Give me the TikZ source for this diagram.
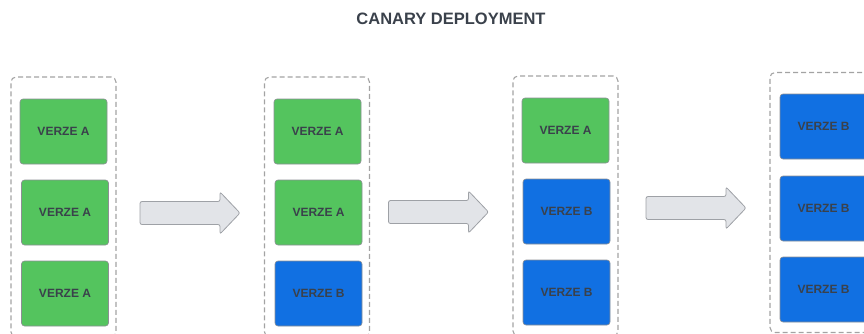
\documentclass[tikz,border=0pt]{standalone}
\usepackage{fontspec}
\setmainfont{Liberation Sans}
\definecolor{verA}{HTML}{54C45E}
\definecolor{verB}{HTML}{1170E2}
\definecolor{txt}{HTML}{3A414B}
\definecolor{frame}{HTML}{A3A3A3}
\definecolor{boxline}{HTML}{8C8F94}
\definecolor{arrowfill}{HTML}{E2E4E8}
\definecolor{arrowline}{HTML}{9EA1A6}
\tikzset{
  panel/.style={draw=frame, line width=1.1pt, dash pattern=on 5pt off 3pt,
    rounded corners=5pt, minimum width=105pt, minimum height=260pt, inner sep=0pt},
  verbox/.style={draw=boxline, line width=0.6pt, rounded corners=3pt,
    minimum width=87pt, minimum height=65pt, inner sep=0pt, text=txt,
    font=\bfseries\fontsize{12}{14}\selectfont},
  va/.style={verbox, fill=verA},
  vb/.style={verbox, fill=verB},
  fatarrow/.pic={
    \draw[draw=arrowline, fill=arrowfill, line width=0.8pt, rounded corners=2pt]
      (-50,-11.5) -- (30,-11.5) -- (30,-21) -- (50,0) -- (30,21) -- (30,11.5)
      -- (-50,11.5) -- cycle;
  }
}
\begin{document}
\begin{tikzpicture}[x=1pt,y=-1pt]
\useasboundingbox (0,0) rectangle (864,333);
\clip (0,0) rectangle (864,333);

\node[text=txt, font=\bfseries\fontsize{16.5}{19}\selectfont] (title) at (451,18.5) {CANARY DEPLOYMENT};

% stage frames
\node[panel] (p1) at (63.5,207) {};
\node[panel] (p2) at (317,207) {};
\node[panel] (p3) at (565.5,206) {};
\node[panel] (p4) at (822.5,202.5) {};

% stage 1
\node[va] (a11) at (63.5,131.5) {VERZE A};
\node[va] (a12) at (65,212.5) {VERZE A};
\node[va] (a13) at (65,293.5) {VERZE A};

% stage 2
\node[va] (a21) at (317.5,131.5) {VERZE A};
\node[va] (a22) at (318.5,212.5) {VERZE A};
\node[vb] (b23) at (318.5,293.5) {VERZE B};

% stage 3
\node[va] (a31) at (565.5,130.5) {VERZE A};
\node[vb] (b32) at (566.5,211.5) {VERZE B};
\node[vb] (b33) at (566.5,292.5) {VERZE B};

% stage 4
\node[vb] (b41) at (823.5,126.5) {VERZE B};
\node[vb] (b42) at (823.5,208.5) {VERZE B};
\node[vb] (b43) at (823.5,289.5) {VERZE B};

% transitions between stages
\pic at (190,213) {fatarrow};
\pic at (438.5,212) {fatarrow};
\pic at (696,208) {fatarrow};
\end{tikzpicture}
\end{document}
